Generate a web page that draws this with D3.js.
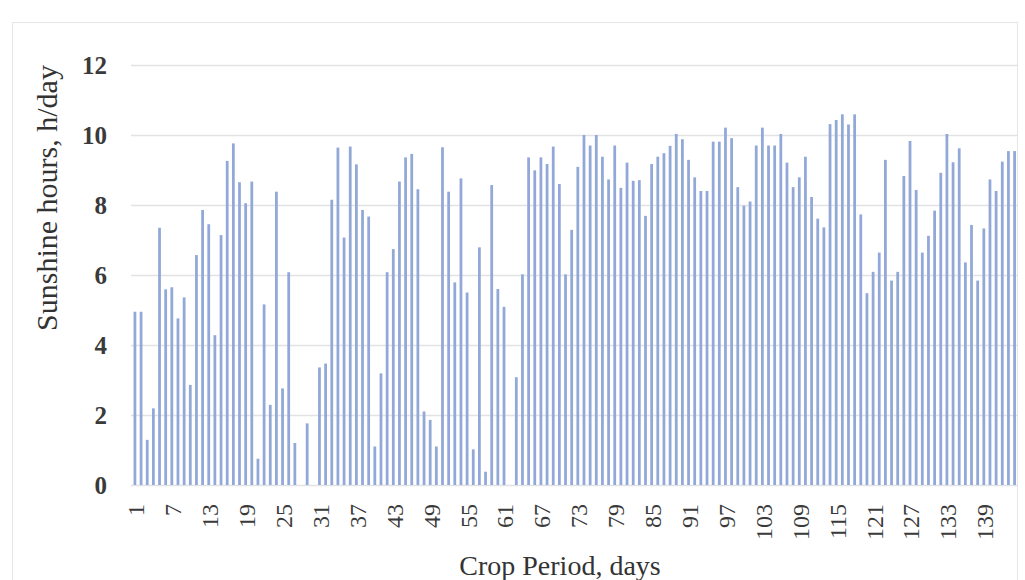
<!DOCTYPE html>
<html>
<head>
<meta charset="utf-8">
<script src="https://cdn.jsdelivr.net/npm/d3@7"></script>
<style>
  html, body { margin: 0; padding: 0; background: #fff; }
  svg { display: block; }
</style>
</head>
<body>
<svg id="chart" width="1025" height="580"></svg>
<script>
// Sunshine hours per day over the crop period (days 1..144)
const sunshine = [
  4.95, 4.95, 1.29, 2.19, 7.35, 5.59, 5.65, 4.76, 5.36, 2.86,
  6.57, 7.86, 7.45, 4.28, 7.14, 9.26, 9.76, 8.65, 8.05, 8.67,
  0.75, 5.16, 2.29, 8.38, 2.76, 6.08, 1.20, 0.00, 1.76, 0.00,
  3.36, 3.47, 8.15, 9.64, 7.07, 9.67, 9.16, 7.86, 7.67, 1.10,
  3.19, 6.08, 6.74, 8.67, 9.36, 9.46, 8.45, 2.10, 1.86, 1.10,
  9.65, 8.38, 5.79, 8.76, 5.50, 1.02, 6.79, 0.38, 8.57, 5.60,
  5.09, 0.00, 3.08, 6.02, 9.36, 8.99, 9.36, 9.17, 9.67, 8.60,
  6.02, 7.29, 9.09, 10.00, 9.70, 10.00, 9.38, 8.73, 9.70, 8.49,
  9.21, 8.69, 8.71, 7.69, 9.17, 9.38, 9.48, 9.69, 10.03, 9.88,
  9.29, 8.79, 8.40, 8.40, 9.81, 9.81, 10.21, 9.91, 8.51, 7.98,
  8.10, 9.70, 10.21, 9.70, 9.70, 10.03, 9.21, 8.51, 8.79, 9.38,
  8.23, 7.61, 7.36, 10.31, 10.43, 10.59, 10.30, 10.59, 7.73, 5.48,
  6.09, 6.64, 9.29, 5.84, 6.09, 8.83, 9.83, 8.43, 6.64, 7.12,
  7.84, 8.92, 10.03, 9.22, 9.62, 6.36, 7.43, 5.84, 7.33, 8.73,
  8.40, 9.24, 9.54, 9.54
];
const days = sunshine.map((_, i) => i + 1);
const yTicks = [0, 2, 4, 6, 8, 10, 12];
const xTickDays = days.filter(d => (d - 1) % 6 === 0);

const yTitle = "Sunshine hours, h/day";
const xTitle = "Crop Period, days";

const svg = d3.select("#chart");

// faint frame
svg.append("rect")
  .attr("x", 12.5).attr("y", 22.5)
  .attr("width", 1005).attr("height", 570)
  .attr("fill", "none").attr("stroke", "#e6e6e6").attr("stroke-width", 1);

const plot = { left: 131, right: 1018, top: 65, bottom: 485 };

const x = d3.scaleBand()
  .domain(days)
  .range([plot.left + 1, plot.right - 0.5])
  .paddingInner(0.55)
  .paddingOuter(0.25);

const y = d3.scaleLinear().domain([0, 12]).range([plot.bottom, plot.top]);

// gridlines
svg.append("g")
  .selectAll("line")
  .data(yTicks)
  .join("line")
  .attr("x1", plot.left).attr("x2", plot.right)
  .attr("y1", d => Math.round(y(d)) + 0.5).attr("y2", d => Math.round(y(d)) + 0.5)
  .attr("stroke", "#e2e2e2").attr("stroke-width", 1.5);

// bars
svg.append("g")
  .selectAll("rect")
  .data(sunshine)
  .join("rect")
  .attr("x", (d, i) => x(days[i]))
  .attr("width", x.bandwidth())
  .attr("y", d => y(d))
  .attr("height", d => y(0) - y(d))
  .attr("fill", "#91a8d8");

// y axis
const yAxis = d3.axisLeft(y).tickValues(yTicks).tickSize(0).tickPadding(0);
const gy = svg.append("g").attr("transform", `translate(${plot.left - 24},0)`).call(yAxis);
gy.select(".domain").remove();
gy.selectAll("text")
  .attr("font-family", "Liberation Serif, Times New Roman, serif")
  .attr("font-size", 25)
  .attr("font-weight", "bold")
  .attr("fill", "#3a3a3a");

// x axis
const xAxis = d3.axisBottom(x).tickValues(xTickDays).tickSize(0).tickPadding(0);
const gx = svg.append("g").attr("transform", `translate(0,${plot.bottom})`).call(xAxis);
gx.select(".domain").remove();
gx.selectAll("text")
  .attr("font-family", "Liberation Serif, Times New Roman, serif")
  .attr("font-size", 24)
  .attr("fill", "#3a3a3a")
  .attr("text-anchor", "end")
  .attr("dy", "0.35em")
  .attr("transform", "translate(1,19) rotate(-90)")
  .attr("x", 0).attr("y", 0);

// axis titles
svg.append("text")
  .attr("transform", `translate(57,198) rotate(-90)`)
  .attr("text-anchor", "middle")
  .attr("font-family", "Liberation Serif, Times New Roman, serif")
  .attr("font-size", 30)
  .attr("fill", "#333")
  .text(yTitle);

svg.append("text")
  .attr("x", 560).attr("y", 575)
  .attr("text-anchor", "middle")
  .attr("font-family", "Liberation Serif, Times New Roman, serif")
  .attr("font-size", 28)
  .attr("fill", "#333")
  .text(xTitle);
</script>
</body>
</html>
